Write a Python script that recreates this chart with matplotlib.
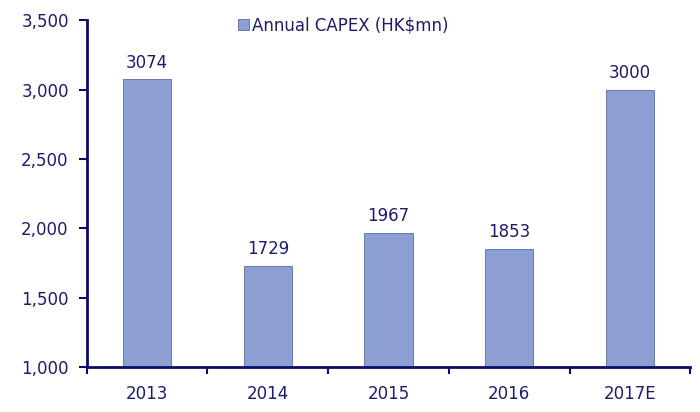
import matplotlib
matplotlib.use("Agg")
import matplotlib.pyplot as plt
import numpy as np

years = ["2013", "2014", "2015", "2016", "2017E"]
capex = [3074, 1729, 1967, 1853, 3000]
yticks = [1000, 1500, 2000, 2500, 3000, 3500]

navy = "#1c1c6b"
spine_col = "#0c0c68"
bar_col = "#8b9fd3"
edge_col = "#5a6aa8"

plt.rcParams["font.family"] = ["DejaVu Sans"]

fig = plt.figure(figsize=(7, 4.12), dpi=100)
ax = fig.add_axes([0.124, 0.109, 0.862, 0.842])

x = np.arange(len(years))
ax.bar(x, capex, width=0.40, color=bar_col, edgecolor=edge_col,
       linewidth=0.6, label="Annual CAPEX (HK$mn)")
for xi, v in zip(x, capex):
    ax.text(xi, v + 85, str(v), ha="center", va="baseline", fontsize=12, color=navy)

ax.set_ylim(1000, 3500)
ax.set_xlim(-0.5, len(years) - 0.5)
ax.set_yticks(yticks)
ax.set_yticklabels([f"{v:,}" for v in yticks])
ax.set_xticks(x)
ax.set_xticklabels(years)
ax.tick_params(axis="x", length=0, pad=13, labelsize=12, labelcolor=navy)
ax.tick_params(axis="y", length=6, width=1.5, color=spine_col, pad=7, labelsize=12, labelcolor=navy)
# ticks between categories
ax.set_xticks(np.arange(-0.5, len(years), 1.0), minor=True)
ax.tick_params(axis="x", which="minor", length=5, width=1.5, color=spine_col, direction="out")

for side in ["top", "right"]:
    ax.spines[side].set_visible(False)
for side in ["left", "bottom"]:
    ax.spines[side].set_color(spine_col)
    ax.spines[side].set_linewidth(2)

leg = ax.legend(loc="upper center", bbox_to_anchor=(0.425, 1.055), frameon=False,
                fontsize=12, handlelength=0.65, handleheight=0.65, handletextpad=0.2)
for t in leg.get_texts():
    t.set_color(navy)

fig.savefig("out.png", dpi=100)
